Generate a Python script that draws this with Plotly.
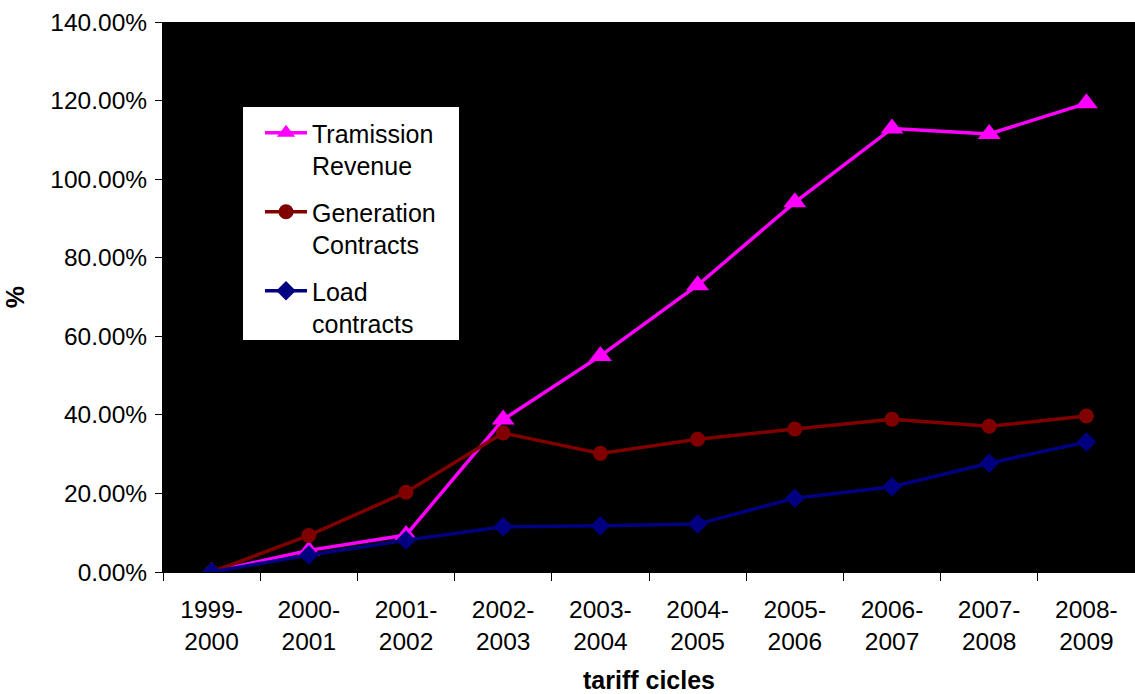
import plotly.graph_objects as go

# Tariff cycles (category axis)
cycles = ["1999-<br>2000", "2000-<br>2001", "2001-<br>2002", "2002-<br>2003", "2003-<br>2004",
          "2004-<br>2005", "2005-<br>2006", "2006-<br>2007", "2007-<br>2008", "2008-<br>2009"]

# Cumulative variation (fraction)
transmission_revenue = [0.0, 0.055, 0.094, 0.388, 0.550, 0.730, 0.941, 1.129, 1.115, 1.193]
generation_contracts = [0.0, 0.093, 0.203, 0.354, 0.302, 0.338, 0.364, 0.389, 0.371, 0.397]
load_contracts = [0.0, 0.043, 0.081, 0.115, 0.118, 0.122, 0.188, 0.217, 0.277, 0.331]

FONT = "Liberation Sans, Arial, sans-serif"

fig = go.Figure()
fig.add_trace(go.Scatter(
    x=cycles, y=transmission_revenue, name="Tramission<br>Revenue", legendgroup="a",
    mode="lines+markers", line=dict(color="#FF00FF", width=3.5),
    marker=dict(symbol="triangle-up", size=20, color="#FF00FF")))
fig.add_trace(go.Scatter(
    x=cycles, y=generation_contracts, name="Generation<br>Contracts", legendgroup="b",
    mode="lines+markers", line=dict(color="#800000", width=3.5),
    marker=dict(symbol="circle", size=15, color="#800000")))
fig.add_trace(go.Scatter(
    x=cycles, y=load_contracts, name="Load<br>contracts", legendgroup="c",
    mode="lines+markers", line=dict(color="#000080", width=3.5),
    marker=dict(symbol="diamond", size=15, color="#000080")))

# White legend panel
fig.add_shape(type="rect", xref="paper", yref="paper",
              x0=(243 - 163) / 972, x1=(459 - 163) / 972,
              y0=(572 - 340) / 550, y1=(572 - 107) / 550,
              fillcolor="white", line=dict(width=0), layer="above")

fig.update_layout(
    width=1135, height=694,
    margin=dict(l=163, r=0, t=22, b=122, autoexpand=False),
    paper_bgcolor="white", plot_bgcolor="black",
    font=dict(family=FONT, size=22, color="black"),
    showlegend=True,
    legend=dict(
        x=(260 - 163) / 972, y=(572 - 110) / 550, xanchor="left", yanchor="top",
        bgcolor="rgba(0,0,0,0)", borderwidth=0,
        font=dict(family=FONT, size=25, color="black"),
        valign="top", tracegroupgap=11, itemwidth=42,
    ),
    xaxis=dict(
        type="category", showgrid=False, zeroline=False, automargin=False,
        showline=True, linecolor="black", linewidth=1,
        ticks="outside", tickson="boundaries", ticklen=8, tickcolor="black",
        tickfont=dict(family=FONT, size=24.5), ticklabelstandoff=16,
        title=dict(text="<b>tariff cicles</b>", font=dict(family=FONT, size=25), standoff=23),
        range=[-0.5, 9.5],
    ),
    yaxis=dict(
        range=[0, 1.4], dtick=0.2, tickformat=".2%", automargin=False,
        showgrid=False, zeroline=False,
        showline=True, linecolor="black", linewidth=1,
        ticks="outside", ticklen=7, tickcolor="black",
        tickfont=dict(family=FONT, size=24.5), ticklabelstandoff=3,
        title=dict(text="<b>%</b>", font=dict(family=FONT, size=25), standoff=18),
    ),
)

fig.write_html("out.html")
